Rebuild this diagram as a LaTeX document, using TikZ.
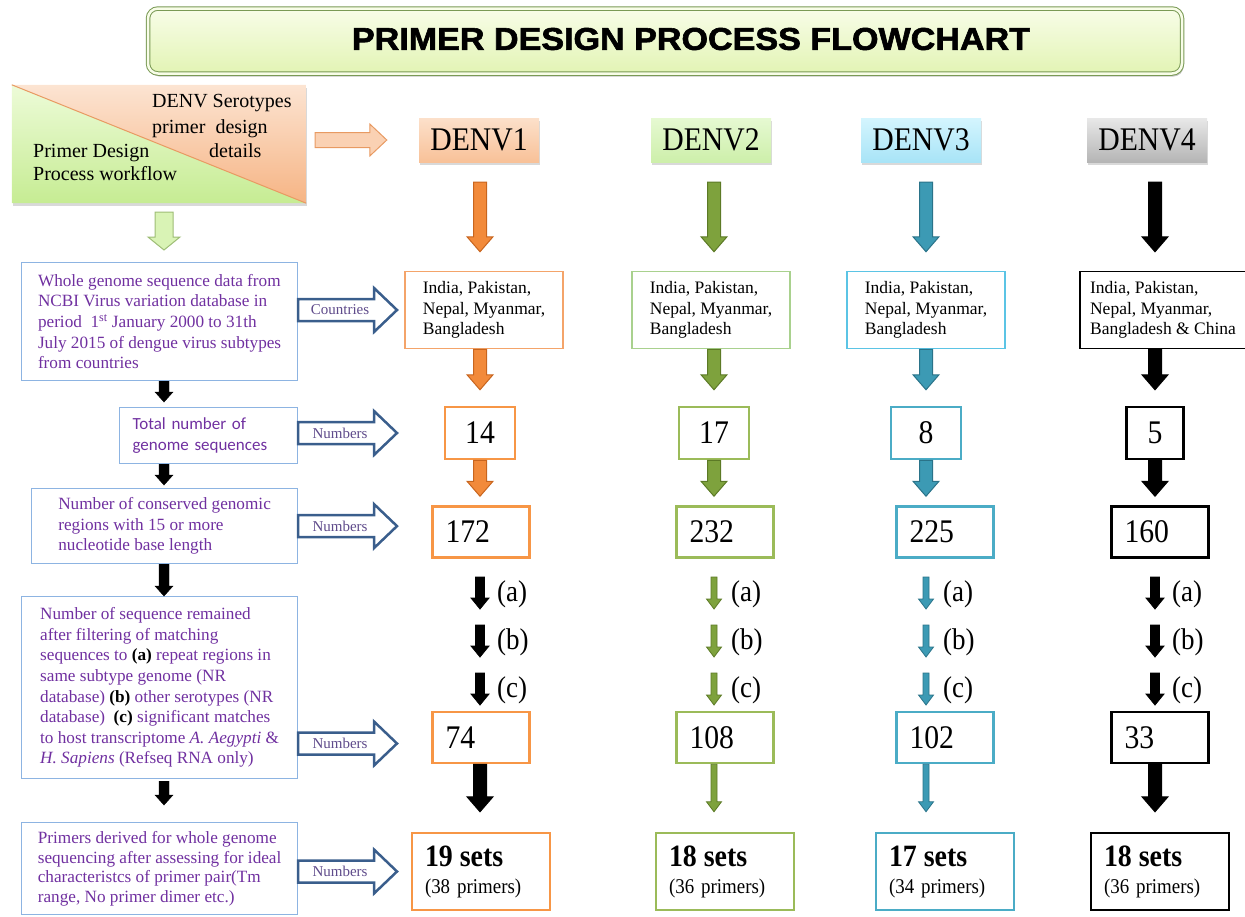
\documentclass[tikz,border=0pt]{standalone}
\usepackage{fontspec}
\usepackage{graphicx}
\setmainfont{Liberation Serif}
\newfontfamily\condfont{Liberation Serif}[FakeStretch=0.9]
\newfontfamily\calfont{Carlito}
\newfontfamily\headfont{Liberation Sans Bold}[FakeBold=1.8]
\usepackage{tikz}
\usetikzlibrary{
	positioning,
	calc,
	shadows
}

\definecolor{wfline}{HTML}{8DB4E2}
\definecolor{wftext}{HTML}{7030A0}
\definecolor{hollow}{HTML}{3A5E8C}
\definecolor{hlabel}{HTML}{5F4B8B}
\definecolor{box1}{HTML}{F79646}
\definecolor{box2}{HTML}{9BBB59}
\definecolor{box3}{HTML}{4BACC6}
\definecolor{box4}{HTML}{000000}
\definecolor{cbox1}{HTML}{F4A46A}
\definecolor{cbox2}{HTML}{A9D18E}
\definecolor{cbox3}{HTML}{5BC4E5}
\definecolor{cbox4}{HTML}{000000}
\definecolor{arr1}{HTML}{F28A3A}
\definecolor{arr2}{HTML}{7EA23D}
\definecolor{arr3}{HTML}{3C9AB4}
\definecolor{arr4}{HTML}{000000}
\definecolor{edge1}{HTML}{C8651E}
\definecolor{edge2}{HTML}{5C7A26}
\definecolor{edge3}{HTML}{2A7389}
\definecolor{edge4}{HTML}{000000}
\definecolor{labT1}{HTML}{FCE0CA}
\definecolor{labB1}{HTML}{F8C198}
\definecolor{labT2}{HTML}{E6F9D2}
\definecolor{labB2}{HTML}{CDEFAA}
\definecolor{labT3}{HTML}{D4F5FE}
\definecolor{labB3}{HTML}{A8E4F7}
\definecolor{labT4}{HTML}{E8E8E8}
\definecolor{labB4}{HTML}{B5B5B5}
\colorlet{abc1}{black}
\colorlet{abc2}{arr2}
\colorlet{abc3}{arr3}
\colorlet{abc4}{black}
\colorlet{abcE1}{black}
\colorlet{abcE2}{edge2}
\colorlet{abcE3}{edge3}
\colorlet{abcE4}{black}
\definecolor{tlgreenT}{HTML}{EDFBD8}
\definecolor{tlgreenB}{HTML}{C6EC93}
\definecolor{tlorT}{HTML}{FCE4D2}
\definecolor{tlorB}{HTML}{F6B484}
\definecolor{tlline}{HTML}{E89A62}
\definecolor{banT}{HTML}{F8FDE8}
\definecolor{banB}{HTML}{E2F4B4}
\definecolor{banline}{HTML}{7A9A55}

\newcommand\wffont{\fontsize{17.2}{20.6}\selectfont}
\newcommand\denvfont{\condfont\fontsize{33}{36}\selectfont}
\newcommand\ctryfont{\fontsize{17.5}{20.7}\selectfont}
\newcommand\bignum{\condfont\fontsize{33}{36}\selectfont}
\newcommand\abcfont{\condfont\fontsize{30}{32}\selectfont}
\newcommand\setsfont{\condfont\fontsize{31}{34}\selectfont\bfseries}
\newcommand\primfont{\condfont\fontsize{21}{23}\selectfont}
\newcommand\tlfont{\fontsize{20}{23}\selectfont}
\newcommand\lblfont{\fontsize{15}{17}\selectfont}

\newcommand\ashaft{\pgfkeysvalueof{/tikz/blk shaft}}
\newcommand\ahead{\pgfkeysvalueof{/tikz/blk head}}
\newcommand\atip{\pgfkeysvalueof{/tikz/blk tip}}

\tikzset{
	blk shaft/.initial=5pt,
	blk head/.initial=12pt,
	blk tip/.initial=14pt,
	down block/.style={to path={
		let \p1=(\tikztostart), \p2=(\tikztotarget) in
		(\x1-\ashaft,\y1) -- (\x1+\ashaft,\y1) -- (\x1+\ashaft,\y2+\atip)
		-- (\x1+\ahead,\y2+\atip) -- (\x1,\y2) -- (\x1-\ahead,\y2+\atip)
		-- (\x1-\ashaft,\y2+\atip) -- cycle}},
	right block/.style={to path={
		let \p1=(\tikztostart), \p2=(\tikztotarget) in
		(\x1,\y1+\ashaft) -- (\x2-\atip,\y1+\ashaft) -- (\x2-\atip,\y1+\ahead)
		-- (\x2,\y1) -- (\x2-\atip,\y1-\ahead) -- (\x2-\atip,\y1-\ashaft)
		-- (\x1,\y1-\ashaft) -- cycle}},
	arrowbig/.style={blk shaft=6.5pt, blk head=13pt, blk tip=15pt, line width=1pt},
	arrowmid/.style={blk shaft=4.5pt, blk head=9pt, blk tip=11pt, line width=.8pt},
	arrowslim/.style={blk shaft=3pt, blk head=7.5pt, blk tip=10pt, line width=.8pt},
	arrowleft/.style={fill=black, draw=black, blk shaft=5pt, blk head=9pt, blk tip=10pt},
	hollowarrow/.style={fill=white, draw=hollow, line width=2.5pt,
		blk shaft=11pt, blk head=22pt, blk tip=23pt}
}

\begin{document}
\begin{tikzpicture}[x=1pt,y=-1pt,
		denv/.style={minimum width=120pt, minimum height=44pt, inner sep=0pt, font=\denvfont,
			drop shadow={shadow xshift=1pt, shadow yshift=-3pt, opacity=.3}},
		country/.style={line width=1.5pt, align=left, font=\ctryfont, minimum height=77pt, inner sep=0pt},
		numbox/.style={line width=2.5pt, font=\bignum, inner sep=0pt, minimum height=52pt},
		leftnum/.style={line width=2.5pt, font=\bignum, align=left, inner xsep=13pt,
			inner ysep=0pt, text width=71pt, minimum height=51pt},
		setsbox/.style={line width=2.5pt, align=left, font=\primfont, inner xsep=13pt,
			inner ysep=0pt, text width=112pt, minimum height=77pt},
		wfbox/.style={draw=wfline, line width=1.2pt, text=wftext, align=left, font=\wffont,
			inner sep=0pt, anchor=north west},
		hlbl/.style={text=hlabel, font=\lblfont, inner sep=0pt},
		abclbl/.style={font=\abcfont, inner sep=0pt, anchor=west},
		tltext/.style={font=\tlfont, inner sep=0pt, anchor=base west}
	]
	\useasboundingbox (0,0) rectangle (1245,916);

	% title banner
	\node[rounded corners=10pt, minimum width=1034pt, minimum height=65pt,
		top color=banT, bottom color=banB, draw=banline, line width=1pt,
		double=banT, double distance=2.5pt,
		drop shadow={shadow xshift=1.5pt, shadow yshift=-3pt, opacity=.45}] (ban) at (665,41) {};
	\node[inner sep=0pt] (ttl) at (691,39)
		{\resizebox{678pt}{22pt}{\headfont PRIMER DESIGN PROCESS FLOWCHART}};

	% split key box
	\node[minimum width=294pt, minimum height=118pt, inner sep=0pt, fill=white,
		drop shadow={shadow xshift=1pt, shadow yshift=-3pt, opacity=.3}] (tl) at (159,144) {};
	\shade[top color=tlgreenT, bottom color=tlgreenB]
		(tl.north west) -- (tl.south east) -- (tl.south west) -- cycle;
	\shade[top color=tlorT, bottom color=tlorB]
		(tl.north west) -- (tl.north east) -- (tl.south east) -- cycle;
	\draw[tlline, line width=1pt] (tl.north west) -- (tl.south east);
	\node[tltext] (tla) at (152,107) {DENV Serotypes};
	\node[tltext] (tlb) at (152,133) {primer\ \ design};
	\node[tltext] (tlc) at (209,157) {details};
	\node[tltext] (tld) at (33,157)  {Primer Design};
	\node[tltext] (tle) at (33,180)  {Process workflow};

	% workflow column
	\node[wfbox, minimum width=276pt, minimum height=118pt] (wf1) at (21,262)
		{Whole genome sequence data from\\NCBI Virus variation database in\\
		period \ 1\textsuperscript{st} January 2000 to 31th\\
		July 2015 of dengue virus subtypes\\from countries};
	\node[wfbox, minimum height=56pt, text width=152pt, inner xsep=13pt,
		font=\calfont\fontsize{17}{21}\selectfont] (wf2) at (119,407)
		{Total number of\\genome sequences};
	\node[wfbox, minimum width=266pt, minimum height=75pt] (wf3) at (31,488)
		{Number of conserved genomic\\regions with 15 or more\\nucleotide base length};
	\node[wfbox, minimum width=276pt, minimum height=182pt] (wf4) at (21,596)
		{Number of sequence remained\\after filtering of matching\\
		sequences to \textbf{\color{black}(a)} repeat regions in\\
		same subtype genome (NR\\
		database) \textbf{\color{black}(b)} other serotypes (NR\\
		database) \ \textbf{\color{black}(c)} significant matches\\
		to host transcriptome \textit{A. Aegypti} \&\\
		\textit{H. Sapiens} (Refseq RNA only)};
	\node[wfbox, minimum width=276pt, minimum height=92pt,
		font=\fontsize{17.2}{19.5}\selectfont] (wf5) at (21,822)
		{Primers derived for whole genome\\sequencing after assessing for ideal\\
		characteristcs of primer pair(Tm\\range, No primer dimer etc.)};

	\coordinate (ax0) at (164,0);
	\filldraw[arrowleft] (wf1.south -| ax0) to[down block] ($(wf2.north -| ax0)-(0,5)$);
	\filldraw[arrowleft] (wf2.south -| ax0) to[down block] ($(wf3.north -| ax0)-(0,3)$);
	\filldraw[arrowleft] (wf3.south -| ax0) to[down block] (wf4.north -| ax0);
	\filldraw[arrowleft] ($(wf4.south -| ax0)+(0,2)$) to[down block] ($(wf5.north -| ax0)-(0,17)$);

	% serotype columns
	\foreach \i/\x/\dx/\cx/\cw/\nw/\bx/\bd/\vn/\vg/\vf/\vs/\vp/\stya/\styf in {
		1/480/479/484/158/70/481/Bangladesh/14/172/74/19/38/arrowmid/arrowbig,
		2/714/711/711/158/70/725/Bangladesh/17/232/108/18/36/arrowslim/arrowslim,
		3/926/921/926/158/70/945/Bangladesh/8/225/102/17/34/arrowslim/arrowslim,
		4/1155/1147/1163/166/57/1160/{Bangladesh \& China}/5/160/33/18/36/arrowmid/arrowbig}{
		\coordinate (ax\i) at (\x,0);
		\node[denv, top color=labT\i, bottom color=labB\i] (d\i) at (\dx,140) {DENV\i};
		\node[country, draw=cbox\i, minimum width=\cw pt] (c\i) at (\cx,310)
			{India, Pakistan,\\Nepal, Myanmar,\\\bd};
		\node[numbox, draw=box\i, minimum width=\nw pt] (n\i) at (\x,433) {\vn};
		\node[leftnum, draw=box\i] (g\i) at (\bx,532) {\vg};
		\node[leftnum, draw=box\i] (f\i) at (\bx,737.5) {\vf};
		\node[setsbox, draw=box\i] (s\i) at (\bx,871.5)
			{{\setsfont \vs\ sets}\\[4pt](\vp\ primers)};

		\filldraw[arrowbig, fill=arr\i, draw=edge\i]
			($(d\i.south -| ax\i)+(0,20)$) to[down block] ($(c\i.north -| ax\i)-(0,19)$);
		\filldraw[arrowbig, fill=arr\i, draw=edge\i]
			(c\i.south -| ax\i) to[down block] ($(n\i.north -| ax\i)-(0,16)$);
		\filldraw[arrowbig, fill=arr\i, draw=edge\i]
			(n\i.south -| ax\i) to[down block] ($(g\i.north -| ax\i)-(0,9)$);
		\foreach \k/\top in {a/577,b/625,c/673}{
			\coordinate (ab\k\i) at (\x,\top);
			\coordinate (ab\k\i e) at (\x,\top+32);
			\filldraw[\stya, fill=abc\i, draw=abcE\i] (ab\k\i) to[down block] (ab\k\i e);
			\node[abclbl] (ab\k\i l) at (\x+17,\top+17) {(\k)};
		}
		\filldraw[\styf, fill=abc\i, draw=abcE\i]
			(f\i.south -| ax\i) to[down block] ($(s\i.north -| ax\i)-(0,20)$);
	}

	% key arrows
	\filldraw[fill=tlorT!60!tlorB, draw=tlline, line width=1pt,
		blk shaft=7.5pt, blk head=16pt, blk tip=17pt]
		($(tl.east |- d1.west)+(9,0)$) to[right block] ($(d1.west)-(32,0)$);
	\filldraw[fill=tlgreenT!50!tlgreenB, draw=tlgreenB!80!black, line width=1pt,
		blk shaft=9pt, blk head=16pt, blk tip=13pt]
		($(tl.south)+(5,9)$) to[down block] ($(wf1.north)+(5,-12)$);

	% hollow arrows
	\coordinate (hx) at (397,0);
	\coordinate (lx) at (340,0);
	\filldraw[hollowarrow] (wf1.east |- c1.west) to[right block] (hx |- c1.west);
	\filldraw[hollowarrow] (wf2.east |- n1.west) to[right block] (hx |- n1.west);
	\filldraw[hollowarrow] (wf3.east) to[right block] (hx |- wf3.east);
	\filldraw[hollowarrow] ($(wf4.east |- f1.west)+(0,6)$) to[right block] ($(hx |- f1.west)+(0,6)$);
	\filldraw[hollowarrow] (wf5.east |- s1.west) to[right block] (hx |- s1.west);
	\node[hlbl] (lbl1) at (lx |- c1.west) {Countries};
	\node[hlbl] (lbl2) at (lx |- n1.west) {Numbers};
	\node[hlbl] (lbl3) at (lx |- wf3.east) {Numbers};
	\node[hlbl] (lbl4) at ($(lx |- f1.west)+(0,6)$) {Numbers};
	\node[hlbl] (lbl5) at (lx |- s1.west) {Numbers};
\end{tikzpicture}
\end{document}
